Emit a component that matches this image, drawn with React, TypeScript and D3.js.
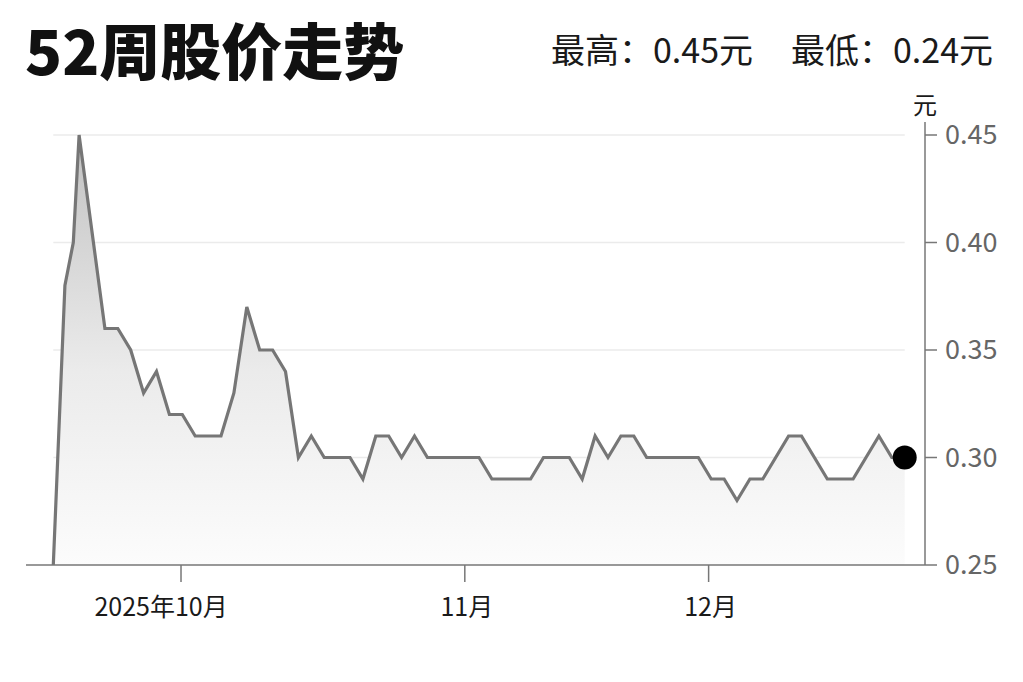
import React from "react";
import * as d3 from "d3";

// trading-day offsets from the first point (first days are intraday-dense)
const tradingDay = [
  0, 0.9, 1.55, 2, 4, 5, 6, 7, 8, 9, 10, 11, 12, 13, 14, 15, 16, 17, 18, 19, 20,
  21, 22, 23, 24, 25, 26, 27, 28, 29, 30, 31, 32, 33, 34, 35, 36, 37, 38, 39, 40,
  41, 42, 43, 44, 45, 46, 47, 48, 49, 50, 51, 52, 53, 54, 55, 56, 57, 58, 59, 60,
  61, 62, 63, 64, 65, 66,
];
const price = [
  0.25, 0.38, 0.40, 0.45, 0.36, 0.36, 0.35, 0.33, 0.34, 0.32, 0.32, 0.31, 0.31, 0.31, 0.33, 0.37,
  0.35, 0.35, 0.34, 0.30, 0.31, 0.30, 0.30, 0.30, 0.29, 0.31, 0.31, 0.30, 0.31, 0.30, 0.30,
  0.30, 0.30, 0.30, 0.29, 0.29, 0.29, 0.29, 0.30, 0.30, 0.30, 0.29, 0.31, 0.30, 0.31, 0.31,
  0.30, 0.30, 0.30, 0.30, 0.30, 0.29, 0.29, 0.28, 0.29, 0.29, 0.30, 0.31, 0.31, 0.30, 0.29,
  0.29, 0.29, 0.30, 0.31, 0.30, 0.30,
];
const monthTickDays = [9.9, 31.9, 50.8];
const monthTickLabels = ["2025年10月", "11月", "12月"];
const yTicks = [0.25, 0.3, 0.35, 0.4, 0.45];
const title = "52周股价走势";
const highText = "最高：0.45元";
const lowText = "最低：0.24元";
const unitText = "元";

const FONT = "'Noto Sans CJK SC', 'Noto Sans', sans-serif";

export default function App() {
  const W = 1023;
  const H = 682;
  const data = tradingDay.map((d, i) => ({ d, v: price[i] }));

  const x = d3.scaleLinear().domain([0, 66]).range([53.3, 904.7]);
  const y = d3.scaleLinear().domain([0.25, 0.45]).range([565, 135]);

  const line = d3
    .line<{ d: number; v: number }>()
    .x((p) => x(p.d))
    .y((p) => y(p.v));
  const area = d3
    .area<{ d: number; v: number }>()
    .x((p) => x(p.d))
    .y0(y(0.25))
    .y1((p) => y(p.v));

  const last = data[data.length - 1];
  const axisX = 925;
  const [x0, x1] = x.range();

  return (
    <svg
      width={W}
      height={H}
      style={{ position: "absolute", left: 0, top: 0, display: "block", background: "#fff" }}
      fontFamily={FONT}
    >
      <defs>
        <linearGradient id="fillGrad" x1="0" y1={y(0.45)} x2="0" y2={y(0.25)} gradientUnits="userSpaceOnUse">
          <stop offset="0" stopColor="#c2c2c2" />
          <stop offset="0.55" stopColor="#ebebeb" />
          <stop offset="1" stopColor="#fcfcfc" />
        </linearGradient>
      </defs>

      <text x={25} y={75} fontSize={61} fontWeight={900} fill="#111">
        {title}
      </text>
      <text x={551} y={63} fontSize={34} fill="#1a1a1a">
        {highText}
      </text>
      <text x={791} y={63} fontSize={34} fill="#1a1a1a">
        {lowText}
      </text>

      {/* gridlines */}
      {yTicks.slice(1).map((t) => (
        <line key={t} x1={x0} x2={x1} y1={y(t)} y2={y(t)} stroke="#ebebeb" strokeWidth={1.5} />
      ))}

      <path d={area(data) || ""} fill="url(#fillGrad)" />
      <path d={line(data) || ""} fill="none" stroke="#767676" strokeWidth={3.2} strokeLinejoin="miter" />

      {/* bottom axis */}
      <line x1={26} x2={axisX} y1={y(0.25)} y2={y(0.25)} stroke="#777" strokeWidth={1.5} />
      {monthTickDays.map((d, i) => (
        <g key={d}>
          <line x1={x(d)} x2={x(d)} y1={y(0.25)} y2={y(0.25) + 17} stroke="#777" strokeWidth={1.5} />
          <text
            x={x(d) + (i === 0 ? -20 : 2)}
            y={616}
            fontSize={25}
            textAnchor="middle"
            fill="#1a1a1a"
          >
            {monthTickLabels[i]}
          </text>
        </g>
      ))}

      {/* right axis */}
      <line x1={axisX} x2={axisX} y1={122} y2={y(0.25)} stroke="#777" strokeWidth={1.5} />
      {yTicks.map((t) => (
        <g key={t}>
          <line x1={axisX} x2={axisX + 12} y1={y(t)} y2={y(t)} stroke="#777" strokeWidth={1.5} />
          <text x={945} y={y(t)} dy="0.35em" fontSize={27} fill="#666">
            {d3.format(".2f")(t)}
          </text>
        </g>
      ))}
      <text x={axisX} y={114} fontSize={24} textAnchor="middle" fill="#1a1a1a">
        {unitText}
      </text>

      <circle cx={x(last.d)} cy={y(last.v)} r={12} fill="#000" />
    </svg>
  );
}
